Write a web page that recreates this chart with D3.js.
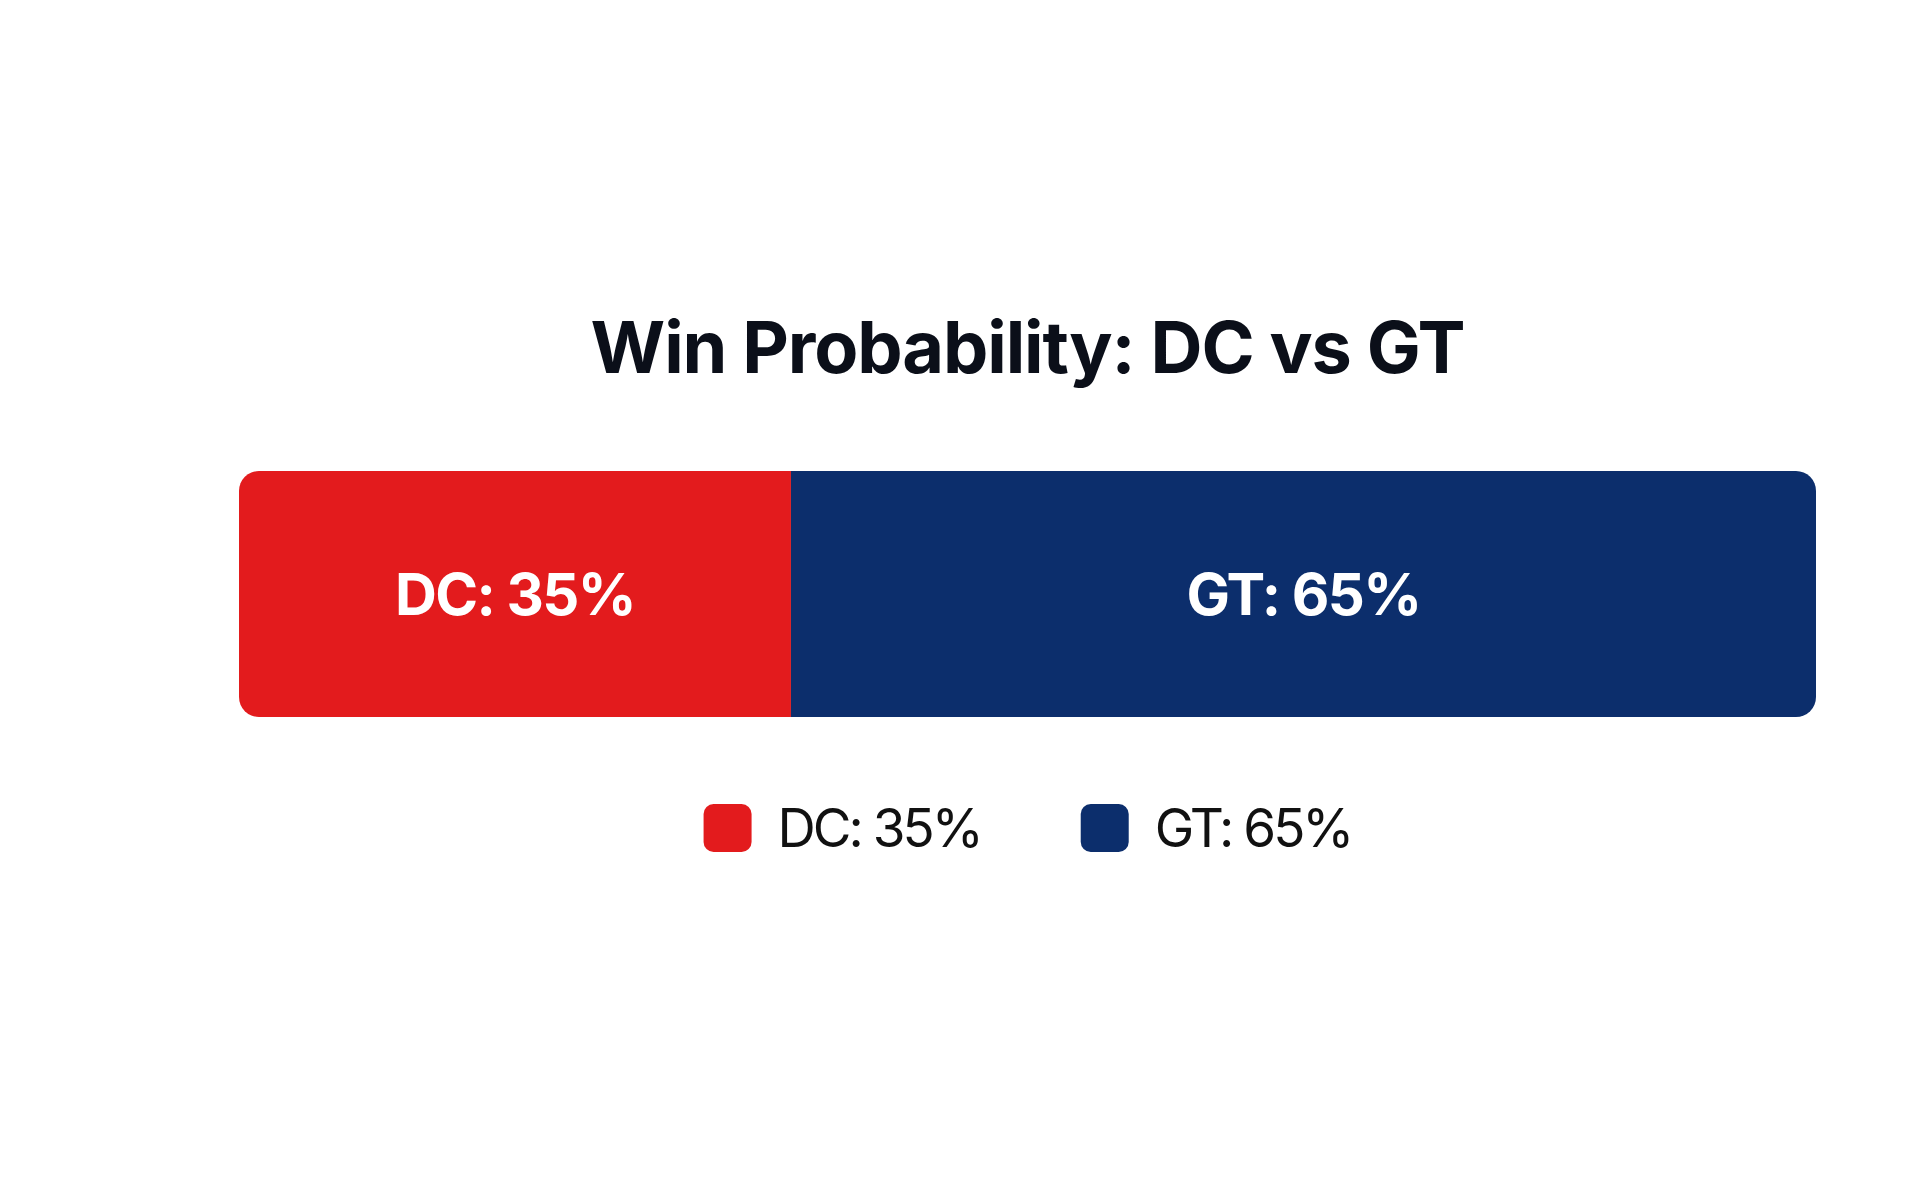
<!DOCTYPE html>
<html>
<head>
<meta charset="utf-8">
<script src="https://cdn.jsdelivr.net/npm/d3@7"></script>
<style>
  html, body { margin: 0; padding: 0; background: #fff; }
  svg { display: block; font-family: Inter, 'Noto Sans', sans-serif; }
</style>
</head>
<body>
<svg id="chart" width="1920" height="1200"></svg>
<script>
/* global d3 */

const teams = ['DC', 'GT']
const probs = [35, 65]
const teamColors = ['#e31b1d', '#0c2e6c']
const title = 'Win Probability: DC vs GT'

const bar = {x0: 239, x1: 1816, y: 471, h: 246, r: 20}

const svg = d3.select('#chart')

svg.append('text')
  .text(title)
  .attr('x', (bar.x0 + bar.x1) / 2)
  .attr('y', 373)
  .attr('text-anchor', 'middle')
  .style('font-size', '72px')
  .style('font-weight', 'bold')
  .style('letter-spacing', '-1.1px')
  .attr('fill', '#0b0f19')

const x = d3.scaleLinear().domain([0, d3.sum(probs)]).range([bar.x0, bar.x1])
const ends = d3.cumsum(probs)
const segs = teams.map((t, i) => ({team: t, value: probs[i], start: ends[i] - probs[i], end: ends[i], color: teamColors[i]}))

svg.append('clipPath')
  .attr('id', 'barClip')
  .append('rect')
  .attr('x', bar.x0)
  .attr('y', bar.y)
  .attr('width', bar.x1 - bar.x0)
  .attr('height', bar.h)
  .attr('rx', bar.r)

const g = svg.append('g').attr('clip-path', 'url(#barClip)')

g.selectAll('rect.seg')
  .data(segs)
  .enter()
  .append('rect')
  .attr('class', 'seg')
  .attr('x', d => x(d.start))
  .attr('y', bar.y)
  .attr('width', d => x(d.end) - x(d.start))
  .attr('height', bar.h)
  .attr('fill', d => d.color)

svg.selectAll('text.seg-label')
  .data(segs)
  .enter()
  .append('text')
  .attr('class', 'seg-label')
  .text(d => d.team + ': ' + d.value + '%')
  .attr('x', d => (x(d.start) + x(d.end)) / 2)
  .attr('y', bar.y + bar.h / 2)
  .attr('dy', '0.36em')
  .attr('text-anchor', 'middle')
  .style('font-size', '58px')
  .style('font-weight', 'bold')
  .style('letter-spacing', '-1.6px')
  .attr('fill', '#ffffff')

// legend, laid out from measured text widths and centred under the bar
const sw = 48
const gapText = 26
const gapItem = 100
const legendY = 804
const legend = svg.append('g')
const items = legend.selectAll('g.item')
  .data(segs)
  .enter()
  .append('g')
  .attr('class', 'item')

items.append('rect')
  .attr('width', sw)
  .attr('height', sw)
  .attr('rx', 10)
  .attr('fill', d => d.color)

items.append('text')
  .text(d => d.team + ': ' + d.value + '%')
  .attr('x', sw + gapText)
  .attr('y', sw / 2)
  .attr('dy', '0.36em')
  .style('font-size', '53px')
  .style('letter-spacing', '-3px')
  .attr('fill', '#111111')

let offset = 0
const widths = []
items.each(function () {
  const w = sw + gapText + d3.select(this).select('text').node().getComputedTextLength()
  widths.push(w)
})
const total = d3.sum(widths) + gapItem * (widths.length - 1)
items.attr('transform', (d, i) => {
  const tx = offset
  offset += widths[i] + gapItem
  return 'translate(' + tx + ',0)'
})
legend.attr('transform', 'translate(' + ((bar.x0 + bar.x1) / 2 - total / 2) + ',' + legendY + ')')
</script>
</body>
</html>
